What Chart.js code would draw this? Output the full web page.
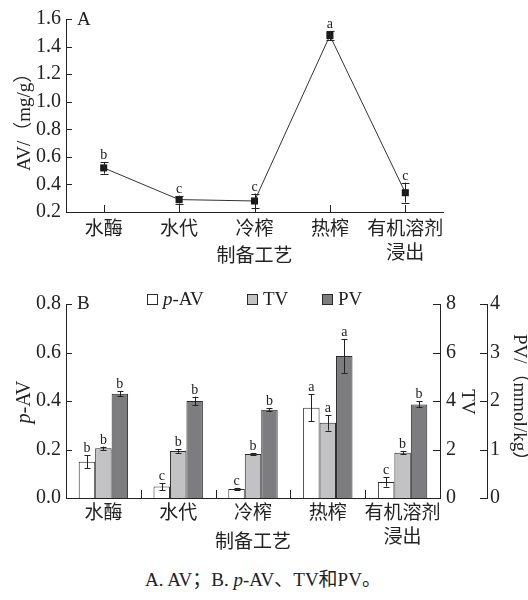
<!DOCTYPE html>
<html><head><meta charset="utf-8">
<script src="https://cdn.jsdelivr.net/npm/chart.js@4.4.1/dist/chart.umd.min.js"></script>
<style>
html,body{margin:0;padding:0;background:#fff;width:528px;height:600px;overflow:hidden}
#c1{position:absolute;left:0;top:0}
#c2{position:absolute;left:0;top:275px}
#cap{position:absolute;left:0;width:526px;top:569px;text-align:center;font-size:19px;font-family:'Liberation Serif','Noto Sans CJK SC',serif;color:#222;line-height:22px}
</style></head><body>
<canvas id="c1" width="528" height="275"></canvas>
<canvas id="c2" width="528" height="290"></canvas>
<div id="cap">A. AV；B. <i>p</i>-AV、TV和PV。</div>
<script>
// ---- data ----
const categories = ['水酶', '水代', '冷榨', '热榨', ['有机溶剂', '浸出']];
const avValues  = [0.52, 0.29, 0.28, 1.48, 0.34];
const avErrors  = [0.042, 0.029, 0.054, 0.034, 0.072];
const avLetters = ['b', 'c', 'c', 'a', 'c'];

const pavValues  = [0.150, 0.047, 0.037, 0.372, 0.066];
const pavErrors  = [0.027, 0.014, 0.005, 0.056, 0.019];
const pavLetters = ['b', 'c', 'c', 'a', 'c'];
const tvValues   = [2.05, 1.94, 1.81, 3.10, 1.87];
const tvErrors   = [0.07, 0.08, 0.03, 0.32, 0.05];
const tvLetters  = ['b', 'b', 'b', 'a', 'b'];
const pvValues   = [2.15, 2.00, 1.82, 2.93, 1.93];
const pvErrors   = [0.05, 0.09, 0.035, 0.35, 0.06];
const pvLetters  = ['b', 'b', 'b', 'a', 'b'];

const avTicks  = [0.2, 0.4, 0.6, 0.8, 1.0, 1.2, 1.4, 1.6];
const pavTicks = [0.0, 0.2, 0.4, 0.6, 0.8];
const tvTicks  = [0, 2, 4, 6, 8];
const pvTicks  = [0, 1, 2, 3, 4];

const SERIF = "'Liberation Serif', 'Noto Sans CJK SC', serif";
const INK = '#222';
const NUM = 20;

function fixedTicks(list) {
  return function (scale) { scale.ticks = list.map(v => ({ value: v })); };
}
function fmt(dec) { return v => Number(v).toFixed(dec); }

function drawYTicks(ctx, scale, inwardDir, len) {
  const x0 = inwardDir > 0 ? scale.right : scale.left;
  ctx.beginPath();
  scale.ticks.forEach(t => {
    const y = Math.round(scale.getPixelForValue(t.value)) + 0.5;
    ctx.moveTo(x0, y); ctx.lineTo(x0 + inwardDir * len, y);
  });
  ctx.stroke();
}
function drawErr(ctx, x, yTop, yBot, cap) {
  ctx.beginPath();
  const xx = Math.round(x) + 0.5;
  ctx.moveTo(xx, yTop); ctx.lineTo(xx, yBot);
  ctx.moveTo(xx - cap, Math.round(yTop) + 0.5); ctx.lineTo(xx + cap, Math.round(yTop) + 0.5);
  ctx.moveTo(xx - cap, Math.round(yBot) + 0.5); ctx.lineTo(xx + cap, Math.round(yBot) + 0.5);
  ctx.stroke();
}
// rotated text made of styled parts; starts at (x0, y0) along the rotated baseline direction
function rotatedText(ctx, parts, x0, y0, angle, centered) {
  ctx.save();
  ctx.translate(x0, y0);
  ctx.rotate(angle);
  ctx.textBaseline = 'middle'; ctx.textAlign = 'left';
  let sx = 0;
  if (centered) {
    let total = 0;
    parts.forEach(p => { ctx.font = p[0]; total += ctx.measureText(p[1]).width; });
    sx = -total / 2;
  }
  parts.forEach(p => { ctx.font = p[0]; ctx.fillText(p[1], sx, 0); sx += ctx.measureText(p[1]).width; });
  ctx.restore();
}

// ---------- Chart A ----------
const decoA = {
  id: 'decoA',
  afterDatasetsDraw(chart) {
    const ctx = chart.ctx, y = chart.scales.y, x = chart.scales.x;
    ctx.save();
    ctx.strokeStyle = INK; ctx.lineWidth = 1;
    ctx.font = '14px ' + SERIF; ctx.fillStyle = INK; ctx.textAlign = 'center'; ctx.textBaseline = 'alphabetic';
    avValues.forEach((v, i) => {
      const px = x.getPixelForValue(i);
      const yt = y.getPixelForValue(v + avErrors[i]);
      const yb = y.getPixelForValue(v - avErrors[i]);
      drawErr(ctx, px, yt, yb, 4);
      ctx.fillText(avLetters[i], px, yt - 3);
    });
    ctx.restore();
  },
  afterDraw(chart) {
    const ctx = chart.ctx, y = chart.scales.y, x = chart.scales.x, a = chart.chartArea;
    ctx.save();
    ctx.strokeStyle = INK; ctx.lineWidth = 1;
    drawYTicks(ctx, y, 1, 6);
    ctx.beginPath();
    categories.forEach((c, i) => {
      const px = Math.round(x.getPixelForValue(i)) + 0.5;
      ctx.moveTo(px, a.bottom); ctx.lineTo(px, a.bottom - 7);
    });
    ctx.stroke();
    ctx.font = '19px ' + SERIF; ctx.fillStyle = INK; ctx.textAlign = 'left'; ctx.textBaseline = 'middle';
    ctx.fillText('A', a.left + 11, a.top + 1);
    // y title, starting near the bottom of the axis and running upwards
    rotatedText(ctx, [['19px ' + SERIF, 'AV/（mg/g）']], 25, a.bottom - 41, -Math.PI / 2, false);
    ctx.restore();
  }
};

new Chart(document.getElementById('c1'), {
  type: 'line',
  data: {
    labels: categories,
    datasets: [{
      label: 'AV',
      data: avValues,
      borderColor: '#333', borderWidth: 1,
      pointStyle: 'rect', pointRadius: 5, pointHoverRadius: 5,
      pointBackgroundColor: '#1a1a1a', pointBorderColor: '#1a1a1a', pointBorderWidth: 0,
      tension: 0, clip: false
    }]
  },
  options: {
    responsive: false, animation: false,
    layout: { padding: { top: 19, right: 85, left: 0, bottom: 0 } },
    plugins: { legend: { display: false }, tooltip: { enabled: false } },
    scales: {
      x: {
        type: 'category', offset: true,
        grid: { display: false, drawTicks: false },
        border: { display: true, color: INK, width: 1 },
        ticks: { color: INK, padding: 6, maxRotation: 0, autoSkip: false,
                 font: { family: SERIF, size: 19, lineHeight: 1.26 } },
        title: { display: true, text: '制备工艺', color: INK,
                 font: { family: SERIF, size: 19 }, padding: { top: 0, bottom: 7 } },
        afterFit(s) { s.height = 63; }
      },
      y: {
        min: 0.2, max: 1.6,
        afterBuildTicks: fixedTicks(avTicks),
        grid: { display: false, drawTicks: false },
        border: { display: true, color: INK, width: 1 },
        ticks: { color: INK, padding: 5, callback: fmt(1), font: { family: SERIF, size: NUM } },
        afterFit(s) { s.width = 66; }
      }
    }
  },
  plugins: [decoA]
});

// ---------- Chart B ----------
const seriesB = [
  { vals: pavValues, errs: pavErrors, letters: pavLetters, axis: 'y' },
  { vals: tvValues, errs: tvErrors, letters: tvLetters, axis: 'y2' },
  { vals: pvValues, errs: pvErrors, letters: pvLetters, axis: 'y3' }
];
const legendB = [
  { parts: [['italic ', 'p'], ['', '-AV']], x: 147 },
  { parts: [['', 'TV']], x: 247 },
  { parts: [['', 'PV']], x: 322 }
];

const decoB = {
  id: 'decoB',
  afterDatasetsDraw(chart) {
    const ctx = chart.ctx;
    ctx.save();
    ctx.strokeStyle = INK; ctx.lineWidth = 1;
    ctx.font = '14px ' + SERIF; ctx.fillStyle = INK; ctx.textAlign = 'center'; ctx.textBaseline = 'alphabetic';
    seriesB.forEach((s, di) => {
      const meta = chart.getDatasetMeta(di);
      const sc = chart.scales[s.axis];
      s.vals.forEach((v, i) => {
        const px = meta.data[i].x;
        const yt = sc.getPixelForValue(v + s.errs[i]);
        const yb = sc.getPixelForValue(v - s.errs[i]);
        drawErr(ctx, px, yt, yb, 3);
        ctx.fillText(s.letters[i], px, yt - 3);
      });
    });
    ctx.restore();
  },
  afterDraw(chart) {
    const ctx = chart.ctx, a = chart.chartArea, x = chart.scales.x;
    ctx.save();
    ctx.strokeStyle = INK; ctx.lineWidth = 1;
    drawYTicks(ctx, chart.scales.y, 1, 6);
    drawYTicks(ctx, chart.scales.y2, -1, 7);
    drawYTicks(ctx, chart.scales.y3, -1, 7);
    ctx.beginPath();
    for (let i = 1; i < categories.length; i++) {
      const px = Math.round((x.getPixelForValue(i - 1) + x.getPixelForValue(i)) / 2) + 0.5;
      ctx.moveTo(px, a.bottom); ctx.lineTo(px, a.bottom - 8);
    }
    ctx.stroke();
    ctx.fillStyle = INK; ctx.textBaseline = 'middle'; ctx.textAlign = 'left';
    ctx.font = '19px ' + SERIF;
    ctx.fillText('B', a.left + 11, a.top);
    // axis titles
    const cy = (a.top + a.bottom) / 2 + 1;
    rotatedText(ctx, [['italic 20px ' + SERIF, 'p'], ['20px ' + SERIF, '-AV']], 25, cy, -Math.PI / 2, true);
    rotatedText(ctx, [['19px ' + SERIF, 'TV']], 467, cy, Math.PI / 2, true);
    rotatedText(ctx, [['19px ' + SERIF, 'PV/（mmol/kg）']], 519, a.top + 30, Math.PI / 2, false);
    // legend
    const ly = a.top - 5;
    chart.data.datasets.forEach((ds, i) => {
      const L = legendB[i];
      ctx.fillStyle = ds.backgroundColor; ctx.strokeStyle = ds.borderColor;
      ctx.fillRect(L.x, ly - 5, 10, 10);
      ctx.strokeRect(L.x + 0.5, ly - 4.5, 10, 10);
      let tx = L.x + 16;
      ctx.fillStyle = INK;
      L.parts.forEach(p => {
        ctx.font = p[0] + '19px ' + SERIF;
        ctx.fillText(p[1], tx, ly + 1);
        tx += ctx.measureText(p[1]).width;
      });
    });
    ctx.restore();
  }
};

new Chart(document.getElementById('c2'), {
  type: 'bar',
  data: {
    labels: categories,
    datasets: [
      { label: 'p-AV', data: pavValues, yAxisID: 'y', backgroundColor: '#ffffff', borderColor: '#2a2a2a', borderWidth: 1 },
      { label: 'TV', data: tvValues, yAxisID: 'y2', backgroundColor: '#c2c2c4', borderColor: '#2a2a2a', borderWidth: 1 },
      { label: 'PV', data: pvValues, yAxisID: 'y3', backgroundColor: '#7d7d80', borderColor: '#2a2a2a', borderWidth: 1 }
    ]
  },
  options: {
    responsive: false, animation: false,
    categoryPercentage: 0.66, barPercentage: 1.0,
    layout: { padding: { top: 29, right: 0, left: 0, bottom: 0 } },
    plugins: { legend: { display: false }, tooltip: { enabled: false } },
    scales: {
      x: {
        type: 'category', offset: true,
        grid: { display: false, drawTicks: false },
        border: { display: true, color: INK, width: 1 },
        ticks: { color: INK, padding: 4, maxRotation: 0, autoSkip: false,
                 font: { family: SERIF, size: 19, lineHeight: 1.26 } },
        title: { display: true, text: '制备工艺', color: INK,
                 font: { family: SERIF, size: 19 }, padding: { top: 0, bottom: 11 } },
        afterFit(s) { s.height = 67; }
      },
      y: {
        position: 'left', min: 0, max: 0.8,
        afterBuildTicks: fixedTicks(pavTicks),
        grid: { display: false, drawTicks: false },
        border: { display: true, color: INK, width: 1 },
        ticks: { color: INK, padding: 5, callback: fmt(1), font: { family: SERIF, size: NUM } },
        afterFit(s) { s.width = 66; }
      },
      y2: {
        position: 'right', min: 0, max: 8,
        afterBuildTicks: fixedTicks(tvTicks),
        grid: { display: false, drawTicks: false },
        border: { display: true, color: INK, width: 1 },
        ticks: { color: INK, padding: 6, callback: fmt(0), font: { family: SERIF, size: NUM } },
        afterFit(s) { s.width = 47; }
      },
      y3: {
        position: 'right', min: 0, max: 4,
        afterBuildTicks: fixedTicks(pvTicks),
        grid: { display: false, drawTicks: false },
        border: { display: true, color: INK, width: 1 },
        ticks: { color: INK, padding: 3, callback: fmt(0), font: { family: SERIF, size: NUM } },
        afterFit(s) { s.width = 41; }
      }
    }
  },
  plugins: [decoB]
});
</script>
</body></html>
